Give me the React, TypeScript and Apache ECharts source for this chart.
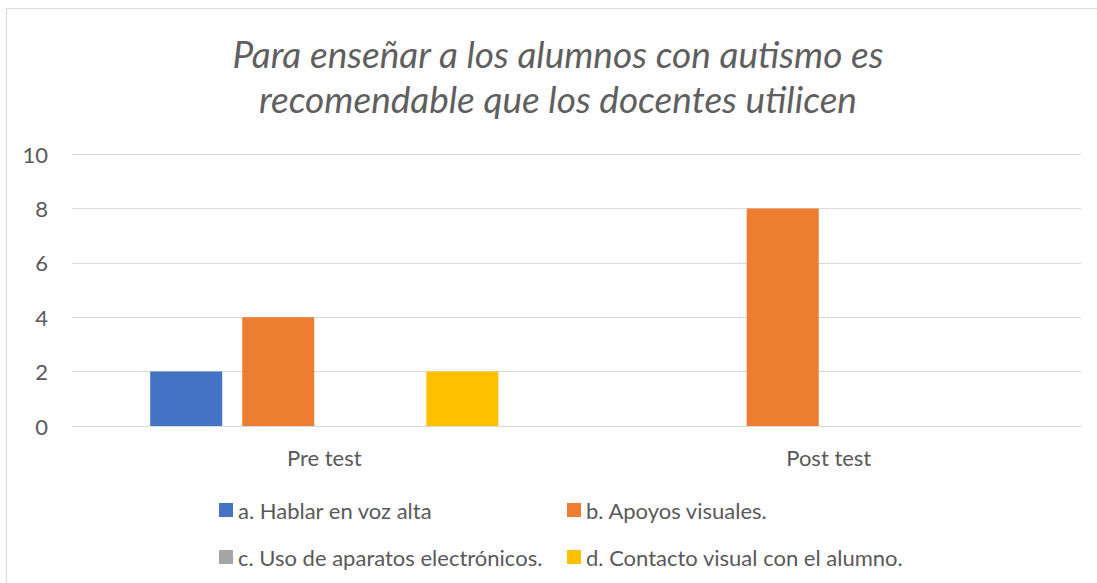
import React, { useEffect, useRef } from "react";
import * as echarts from "echarts";

const categories = ["Pre test", "Post test"];
const seriesNames = [
  "a. Hablar en voz alta",
  "b. Apoyos visuales.",
  "c. Uso de aparatos electrónicos.",
  "d. Contacto visual con el alumno.",
];
const seriesA = [2, 0];
const seriesB = [4, 8];
const seriesC = [0, 0];
const seriesD = [2, 0];
const colors = ["#4472C4", "#ED7D31", "#A5A5A5", "#FFC000"];
const titleText = "Para enseñar a los alumnos con autismo es\nrecomendable que los docentes utilicen";

export default function App() {
  const ref = useRef<HTMLDivElement>(null);
  useEffect(() => {
    if (!ref.current) return;
    const chart = echarts.init(ref.current, undefined, { renderer: "svg" });
    const font = "Lato, 'Open Sans', sans-serif";
    const legendText = { color: "#595959", fontSize: 22, fontFamily: font, width: 324, lineHeight: 26 };
    const values = [seriesA, seriesB, seriesC, seriesD];
    chart.setOption({
      animation: false,
      backgroundColor: "#ffffff",
      color: colors,
      title: {
        text: titleText,
        left: 553,
        textAlign: "center",
        top: 26,
        textStyle: {
          color: "#5f5f5f",
          fontSize: 37,
          fontStyle: "italic",
          fontWeight: 400,
          fontFamily: font,
          lineHeight: 45,
        },
      },
      graphic: [
        {
          type: "rect",
          shape: { x: 6.5, y: 8.5, width: 1200, height: 700 },
          style: { fill: "none", stroke: "#d9d9d9", lineWidth: 1 },
          silent: true,
        },
      ],
      legend: [
        {
          data: [seriesNames[0], seriesNames[1]],
          left: 214,
          top: 492,
          itemWidth: 14,
          itemHeight: 14,
          itemGap: 5,
          icon: "rect",
          textStyle: legendText,
        },
        {
          data: [seriesNames[2], seriesNames[3]],
          left: 214,
          top: 539,
          itemWidth: 14,
          itemHeight: 14,
          itemGap: 5,
          icon: "rect",
          textStyle: legendText,
        },
      ],
      grid: { left: 72, right: 16, top: 154, bottom: 157, containLabel: false },
      xAxis: {
        type: "category",
        data: categories,
        axisLine: { lineStyle: { color: "#d9d9d9", width: 1 } },
        axisTick: { show: false },
        axisLabel: { color: "#595959", fontSize: 22, fontFamily: font, margin: 20 },
      },
      yAxis: {
        type: "value",
        min: 0,
        max: 10,
        interval: 2,
        axisLine: { show: false },
        axisTick: { show: false },
        splitLine: { lineStyle: { color: "#d9d9d9", width: 1 } },
        axisLabel: { color: "#595959", fontSize: 22, fontFamily: font, margin: 24 },
      },
      series: seriesNames.map((name, i) => ({
        name,
        type: "bar",
        data: values[i],
        barGap: "27.8%",
        barCategoryGap: "31%",
        itemStyle: { color: colors[i] },
      })),
    });
    return () => chart.dispose();
  }, []);
  return (
    <div
      ref={ref}
      style={{ position: "fixed", left: 0, top: 0, width: 1097, height: 583 }}
    />
  );
}
